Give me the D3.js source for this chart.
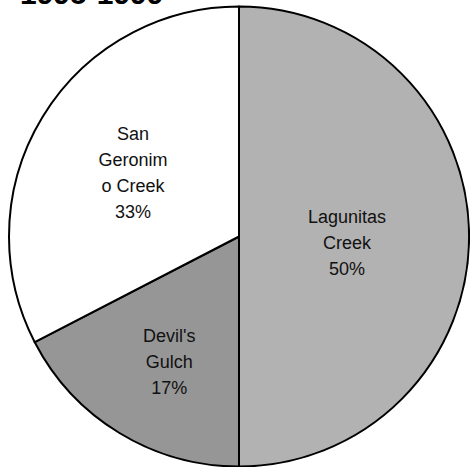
<!DOCTYPE html>
<html>
<head>
<meta charset="utf-8">
<script src="https://cdn.jsdelivr.net/npm/d3@7"></script>
<style>
  html, body { margin: 0; padding: 0; background: #fff; }
  svg { display: block; }
</style>
</head>
<body>
<svg id="chart" width="470" height="467"></svg>
<script>
// ---- data ----
const title = "1995-1999";
const categories = ["Lagunitas Creek", "Devil's Gulch", "San Geronimo Creek"];
const values = [50, 17.4, 32.6];
const labelLines = [
  ["Lagunitas", "Creek"],
  ["Devil's", "Gulch"],
  ["San", "Geronim", "o Creek"]
];
const colors = ["#b2b2b2", "#969696", "#ffffff"];

// ---- layout ----
const W = 470, H = 467;
const cx = 239, cy = 236.5, R = 230;
const labelRadiusFactor = [0.47, 0.625, 0.54];
const labelNudge = [[0, 6], [5, 2], [0, 1]];
const lineH = 26;

const svg = d3.select("#chart");

svg.append("text")
  .attr("x", 20)
  .attr("y", 4)
  .attr("font-family", "Arial, 'Liberation Sans', sans-serif")
  .attr("font-weight", "bold")
  .attr("font-size", 30)
  .attr("fill", "#000")
  .text(title);

const total = d3.sum(values);
const pie = d3.pie().sort(null).value(d => d)(values);
const arc = d3.arc().innerRadius(0).outerRadius(R);

const g = svg.append("g").attr("transform", `translate(${cx},${cy})`);

g.selectAll("path.slice")
  .data(pie)
  .join("path")
  .attr("class", "slice")
  .attr("d", arc)
  .attr("fill", (d, i) => colors[i])
  .attr("stroke", "#000")
  .attr("stroke-width", 2)
  .attr("stroke-linejoin", "round");

const fmt = v => Math.round(v / total * 100) + "%";

pie.forEach((d, i) => {
  const mid = (d.startAngle + d.endAngle) / 2;
  const rr = R * labelRadiusFactor[i];
  const x = Math.sin(mid) * rr + labelNudge[i][0];
  const y = -Math.cos(mid) * rr + labelNudge[i][1];
  const lines = labelLines[i].concat([fmt(values[i])]);
  const n = lines.length;
  const t = g.append("text")
    .attr("text-anchor", "middle")
    .attr("font-family", "Arial, 'Liberation Sans', sans-serif")
    .attr("font-size", 18)
    .attr("fill", "#111");
  lines.forEach((s, k) => {
    t.append("tspan")
      .attr("x", x)
      .attr("y", y + (k - (n - 1) / 2) * lineH + 6.5)
      .text(s);
  });
});
</script>
</body>
</html>
